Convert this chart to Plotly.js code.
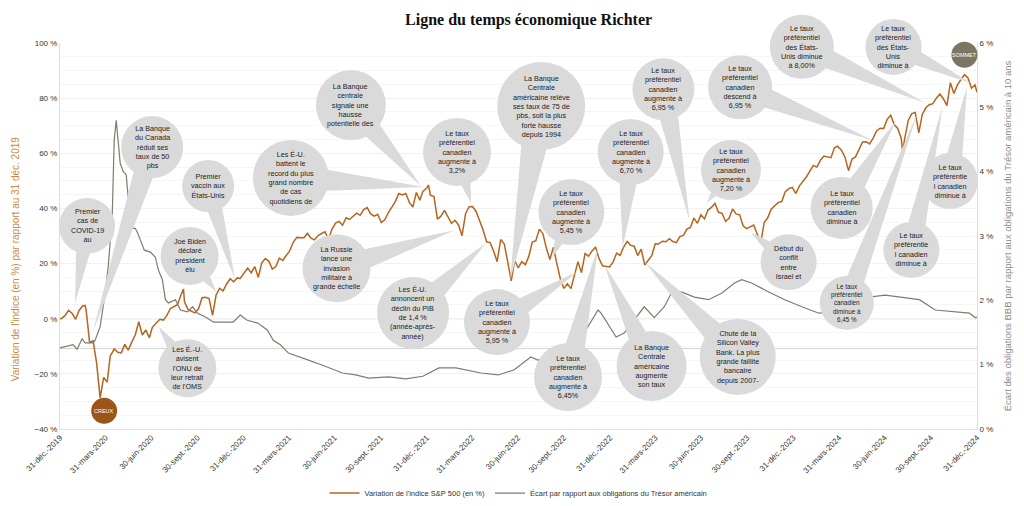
<!DOCTYPE html>
<html><head><meta charset="utf-8">
<script src="https://cdn.plot.ly/plotly-3.0.1.min.js"></script>
<style>html,body{margin:0;padding:0;background:#fff}#chart{width:1024px;height:506px}</style>
</head><body><div id="chart"></div>
<script>
// ---------- DATA ----------
const spDates = [
'2019-12-31','2020-01-03','2020-01-10','2020-01-17','2020-01-24','2020-01-31','2020-02-07','2020-02-14','2020-02-19','2020-02-21','2020-02-28',
'2020-03-06','2020-03-13','2020-03-20','2020-03-27','2020-04-03','2020-04-09','2020-04-17','2020-04-24','2020-05-01','2020-05-08','2020-05-15',
'2020-05-22','2020-05-29','2020-06-05','2020-06-12','2020-06-19','2020-06-26','2020-07-02','2020-07-10','2020-07-17','2020-07-24','2020-07-31',
'2020-08-07','2020-08-14','2020-08-21','2020-08-28','2020-09-02','2020-09-04','2020-09-11','2020-09-18','2020-09-25','2020-10-02','2020-10-09',
'2020-10-16','2020-10-23','2020-10-30','2020-11-06','2020-11-13','2020-11-20','2020-11-27','2020-12-04','2020-12-11','2020-12-18','2020-12-24','2020-12-31',
'2021-01-08','2021-01-15','2021-01-22','2021-01-29','2021-02-05','2021-02-12','2021-02-19','2021-02-26','2021-03-05','2021-03-12','2021-03-19',
'2021-03-26','2021-04-01','2021-04-09','2021-04-16','2021-04-23','2021-04-30','2021-05-07','2021-05-14','2021-05-21','2021-05-28','2021-06-04',
'2021-06-11','2021-06-18','2021-06-25','2021-07-02','2021-07-09','2021-07-16','2021-07-23','2021-07-30','2021-08-06','2021-08-13','2021-08-20',
'2021-08-27','2021-09-03','2021-09-10','2021-09-17','2021-09-24','2021-10-01','2021-10-08','2021-10-15','2021-10-22','2021-10-29','2021-11-05',
'2021-11-12','2021-11-19','2021-11-26','2021-12-03','2021-12-10','2021-12-17','2021-12-23','2021-12-31',
'2022-01-03','2022-01-07','2022-01-14','2022-01-21','2022-01-28','2022-02-04','2022-02-11','2022-02-18','2022-02-25','2022-03-04','2022-03-11',
'2022-03-18','2022-03-25','2022-04-01','2022-04-08','2022-04-14','2022-04-22','2022-04-29','2022-05-06','2022-05-13','2022-05-20','2022-05-27',
'2022-06-03','2022-06-10','2022-06-17','2022-06-24','2022-07-01','2022-07-08','2022-07-15','2022-07-22','2022-07-29','2022-08-05','2022-08-12',
'2022-08-19','2022-08-26','2022-09-02','2022-09-09','2022-09-16','2022-09-23','2022-09-30','2022-10-07','2022-10-14','2022-10-21','2022-10-28',
'2022-11-04','2022-11-11','2022-11-18','2022-11-25','2022-12-02','2022-12-09','2022-12-16','2022-12-23','2022-12-30',
'2023-01-06','2023-01-13','2023-01-20','2023-01-27','2023-02-03','2023-02-10','2023-02-17','2023-02-24','2023-03-03','2023-03-10','2023-03-17',
'2023-03-24','2023-03-31','2023-04-06','2023-04-14','2023-04-21','2023-04-28','2023-05-05','2023-05-12','2023-05-19','2023-05-26','2023-06-02',
'2023-06-09','2023-06-16','2023-06-23','2023-06-30','2023-07-07','2023-07-14','2023-07-21','2023-07-28','2023-08-04','2023-08-11','2023-08-18',
'2023-08-25','2023-09-01','2023-09-08','2023-09-15','2023-09-22','2023-09-29','2023-10-06','2023-10-13','2023-10-20','2023-10-27','2023-11-03',
'2023-11-10','2023-11-17','2023-11-24','2023-12-01','2023-12-08','2023-12-15','2023-12-22','2023-12-29',
'2024-01-05','2024-01-12','2024-01-19','2024-01-26','2024-02-02','2024-02-09','2024-02-16','2024-02-23','2024-03-01','2024-03-08','2024-03-15',
'2024-03-22','2024-03-28','2024-04-05','2024-04-12','2024-04-19','2024-04-26','2024-05-03','2024-05-10','2024-05-17','2024-05-24','2024-05-31',
'2024-06-07','2024-06-14','2024-06-21','2024-06-28','2024-07-05','2024-07-12','2024-07-19','2024-07-26','2024-08-02','2024-08-05','2024-08-09',
'2024-08-16','2024-08-23','2024-08-30','2024-09-06','2024-09-13','2024-09-20','2024-09-27','2024-10-04','2024-10-11','2024-10-18','2024-10-25',
'2024-11-01','2024-11-08','2024-11-15','2024-11-22','2024-11-29','2024-12-06','2024-12-13','2024-12-20','2024-12-27','2024-12-31'];
const spValues = [
0,0.1,1.1,3.0,2.0,-0.2,3.0,4.6,4.8,3.3,-8.6,
-8.0,-16.1,-28.7,-21.3,-23.0,-13.6,-11.0,-12.2,-12.4,-9.3,-11.4,
-8.5,-5.8,-1.1,-5.9,-4.1,-6.9,-3.1,-1.4,-0.2,-0.5,1.2,
3.7,4.4,5.1,8.6,10.8,6.1,3.4,2.7,2.1,3.6,7.6,
7.8,7.3,1.2,8.6,11.0,10.1,12.6,14.5,13.4,14.8,14.6,16.3,
18.4,16.6,18.9,15.0,20.3,21.8,20.9,18.0,18.9,22.0,21.1,
23.0,24.4,27.8,29.5,29.4,29.4,31.0,29.2,28.6,30.1,30.9,
31.5,28.9,32.5,34.7,35.3,33.9,36.6,36.0,37.3,38.3,37.5,
39.6,40.3,38.0,37.2,37.9,34.9,35.9,38.4,40.7,42.5,45.4,
44.9,45.4,42.2,40.5,45.8,43.0,46.2,47.5,
48.5,44.8,44.3,36.1,37.2,39.3,36.8,34.6,35.7,34.0,30.1,
38.1,40.6,40.7,38.9,36.0,32.2,27.9,27.6,24.5,20.7,28.7,
27.2,20.7,13.7,21.1,18.4,20.7,19.6,22.6,27.8,28.3,32.5,
30.9,25.6,21.5,25.9,19.9,14.3,11.0,12.7,10.9,16.1,20.7,
16.7,23.6,22.7,24.6,26.0,21.8,19.2,19.0,18.8,
20.6,23.8,23.0,26.0,28.0,26.6,26.3,22.9,25.2,19.5,21.2,
22.9,27.2,27.1,28.1,27.9,29.0,28.0,27.6,29.8,30.2,32.5,
33.1,36.5,34.6,37.7,36.2,39.4,40.4,41.8,38.6,38.2,35.3,
36.4,39.8,38.0,37.7,33.7,32.7,33.4,34.0,30.7,27.4,34.9,
36.6,39.7,41.1,42.2,42.5,46.1,47.2,47.6,
45.4,48.1,49.8,51.4,53.5,55.6,55.0,57.5,59.0,58.6,58.4,
62.0,62.6,61.1,58.6,53.7,57.9,58.7,61.7,64.1,64.2,63.4,
65.5,68.1,69.1,69.0,72.3,73.8,70.4,69.0,65.5,60.5,65.4,
71.9,74.4,74.8,67.4,74.1,76.5,77.6,78.0,80.0,81.5,79.8,
77.3,85.6,81.7,84.8,86.7,88.5,87.3,83.6,84.8,82.1];

const spreadDates = [
'2019-12-31','2020-01-26','2020-02-03','2020-02-13','2020-02-19','2020-03-06','2020-03-10','2020-03-20','2020-03-30','2020-04-05',
'2020-04-13','2020-04-17','2020-04-21','2020-04-25','2020-04-29','2020-05-05','2020-05-11','2020-05-13','2020-05-17','2020-05-21',
'2020-05-29','2020-06-02','2020-06-08','2020-06-16','2020-06-28','2020-07-08','2020-07-14','2020-07-22','2020-07-28','2020-08-03',
'2020-08-17','2020-08-27','2020-09-10','2020-09-20','2020-09-30','2020-10-16','2020-11-01','2020-11-25','2020-12-10','2020-12-24',
'2021-01-07','2021-01-27','2021-02-16','2021-02-28','2021-03-14','2021-03-30','2021-04-23','2021-05-09','2021-06-06','2021-07-16',
'2021-08-11','2021-09-06','2021-10-16','2021-11-19','2021-12-23','2022-01-24','2022-02-27','2022-04-18','2022-05-22','2022-06-23',
'2022-07-26','2022-08-09','2022-09-04','2022-10-08','2022-11-09','2022-12-07','2022-12-13','2023-01-02','2023-01-12','2023-01-28',
'2023-02-17','2023-03-09','2023-03-29','2023-04-18','2023-05-02','2023-05-22','2023-06-17','2023-07-15','2023-08-10','2023-09-05',
'2023-09-19','2023-10-09','2023-11-12','2023-12-14','2024-01-17','2024-02-20','2024-03-11','2024-04-12','2024-05-10','2024-05-30',
'2024-07-01','2024-08-04','2024-09-07','2024-10-09','2024-11-12','2024-12-16','2024-12-28','2024-12-31'];
const spreadValues = [
1.26,1.31,1.24,1.40,1.34,1.34,1.38,1.59,2.11,2.52,
3.30,4.49,4.80,4.49,4.13,4.00,3.95,3.76,3.40,3.12,
3.12,3.06,2.94,2.78,2.75,2.67,2.47,2.32,2.01,1.96,
2.01,1.85,1.82,1.90,1.80,1.74,1.66,1.66,1.66,1.77,
1.69,1.65,1.54,1.38,1.31,1.18,1.12,1.07,0.99,0.87,
0.84,0.79,0.81,0.78,0.82,0.95,0.95,0.87,0.84,0.92,
1.12,1.07,1.12,1.27,1.49,1.85,1.80,1.54,1.43,1.49,
1.69,1.90,1.73,1.90,2.11,2.13,2.05,2.01,2.11,2.27,
2.32,2.27,2.13,2.01,1.90,1.80,1.82,1.90,2.01,2.05,
2.08,2.05,2.01,1.85,1.82,1.80,1.73,1.74];

const tickDates = ['2019-12-31','2020-03-31','2020-06-30','2020-09-30','2020-12-31','2021-03-31','2021-06-30','2021-09-30','2021-12-31',
'2022-03-31','2022-06-30','2022-09-30','2022-12-31','2023-03-31','2023-06-30','2023-09-30','2023-12-31','2024-03-31','2024-06-30','2024-09-30','2024-12-31'];
const tickLabels = ['31-déc.-2019','31-mars-2020','30-juin-2020','30-sept.-2020','31-déc.-2020','31-mars-2021','30-juin-2021','30-sept.-2021','31-déc.-2021',
'31-mars-2022','30-juin-2022','30-sept.-2022','31-déc.-2022','31-mars-2023','30-juin-2023','30-sept.-2023','31-déc.-2023','31-mars-2024','30-juin-2024','30-sept.-2024','31-déc.-2024'];

// Events: date the pointer lands on and its level on the left axis (%)
const eventDates = ['2020-01-30','2020-03-06','2020-12-14','2020-11-07','2020-07-14','2021-12-25','2021-12-19','2022-02-24','2022-04-28',
'2022-03-29','2022-06-15','2022-10-26','2022-09-07','2022-12-07','2023-01-25','2022-12-20','2023-03-10','2023-06-07','2024-06-05',
'2023-07-12','2023-10-07','2024-07-24','2024-09-04','2024-10-23','2024-12-11','2024-09-18','2024-12-18'];
const eventLevels = [5.7,-4.5,14.0,9.7,-2.7,47.8,48.1,32.1,27.5,
42.0,14.0,16.9,22.4,26.0,26.0,19.5,20.6,35.7,64.7,
42.0,31.4,72.1,75.0,76.8,84.0,78.3,85.5];
const eventTexts = [
'Premier<br>cas de<br>COVID-19<br>au',
'La Banque<br>du Canada<br>réduit ses<br>taux de 50<br>pbs',
'Premier<br>vaccin aux<br>États-Unis',
'Joe Biden<br>déclaré<br>président<br>élu',
'Les É.-U.<br>avisent<br>l\'ONU de<br>leur retrait<br>de l\'OMS',
'Les É-U.<br>battent le<br>record du plus<br>grand nombre<br>de cas<br>quotidiens de',
'La Banque<br>centrale<br>signale une<br>hausse<br>potentielle des',
'La Russie<br>lance une<br>invasion<br>militaire à<br>grande échelle',
'Les É-U.<br>annoncent un<br>déclin du PIB<br>de 1,4 %<br>(année-après-<br>année)',
'Le taux<br>préférentiel<br>canadien<br>augmente à<br>3,2%',
'La Banque<br>Centrale<br>américaine relève<br>ses taux de 75 de<br>pbs, soit la plus<br>forte hausse<br>depuis 1994',
'Le taux<br>préférentiel<br>canadien<br>augmente à<br>5,95 %',
'Le taux<br>préférentiel<br>canadien<br>augmente à<br>5,45 %',
'Le taux<br>préférentiel<br>canadien<br>augmente à<br>6,45%',
'Le taux<br>préférentiel<br>canadien<br>augmente à<br>6,70 %',
'La Banque<br>Centrale<br>américaine<br>augmente<br>son taux',
'Chute de la<br>Silicon Valley<br>Bank. La plus<br>grande faillite<br>bancaire<br>depuis 2007-',
'Le taux<br>préférentiel<br>canadien<br>augmente à<br>6,95 %',
'Le taux<br>préférentiel<br>canadien<br>descend à<br>6,95 %',
'Le taux<br>préférentiel<br>canadien<br>augmente à<br>7,20 %',
'Début du<br>conflit<br>entre<br>Israel et',
'Le taux<br>préférentiel<br>canadien<br>diminue à',
'Le taux<br>préférentiel<br>canadien<br>diminue à<br>6,45 %',
'Le taux<br>préférentie<br>l canadien<br>diminue à',
'Le taux<br>préférentie<br>l canadien<br>diminue à',
'Le taux<br>préférentiel<br>des États-<br>Unis diminue<br>à 8,00%',
'Le taux<br>préférentiel<br>des États-<br>Unis<br>diminue à'];

// bubble placement (pixels, relative to the pointer point; y up) and radius
const bubbleDx = [12,59,-27,-27,29,-133,-70,-118,-73,-14,31,-80,19,-30,8,47,93,-26,-132,24,38,-55,-71,-31,-17,-123,-77];
const bubbleDy = [77,184,94,36,-42,9,81,-38,-70,51,174,-50,45,-130,95,-101,-95,131,53,33,-30,-88,-191,-143,-94,56,36];
const bubbleR  = [28,31,26,29,29,38,35,34,36,34,44,33,33,34,33,35,38,31,32,30,28,31,27,28,28,32,28];
const bubbleFont = [7.2,7.2,7.2,7.2,7.2,7.2,7.2,7.2,7.2,7.2,7.2,7.2,7.2,7.2,7.2,7.2,7.2,7.2,7.2,7.2,7.2,7.2,6.3,7.2,7.2,7.2,7.2];

// extreme markers
const markerLabels = ['CREUX','SOMMET'];
const markerDates = ['2020-03-20','2024-12-06'];
const markerLevels = [-28.7,88.5];

// ---------- CHART ----------
const X0 = Date.parse('2019-12-31'), X1 = Date.parse('2024-12-31');
const YMIN = -40, YMAX = 100;
const px = d => (Date.parse(d) - X0) / (X1 - X0);
const py = v => (v - YMIN) / (YMAX - YMIN);

const BUBBLE = '#dadada';
const shapes = [
  {type:'line', xref:'paper', x0:0, x1:1, yref:'y2', y0:1.25, y1:1.25, line:{color:'#d4d4d4', width:1}, layer:'below'},
  {type:'line', xref:'paper', x0:0, x1:1, yref:'y', y0:0, y1:0, line:{color:'#d4d4d4', width:1}, layer:'below'}
];
const annotations = [];

eventDates.forEach((d, i) => {
  const ax = px(d), ay = py(eventLevels[i]);
  const dx = bubbleDx[i], dy = bubbleDy[i], r = bubbleR[i];
  const len = Math.hypot(dx, dy);
  const w = 0.38 * r;
  const pxp = -dy / len * w, pyp = dx / len * w;
  shapes.push({type:'path', xref:'paper', yref:'paper', xsizemode:'pixel', ysizemode:'pixel', xanchor:ax, yanchor:ay,
    path:`M 0 0 L ${(dx+pxp).toFixed(1)} ${(dy+pyp).toFixed(1)} L ${(dx-pxp).toFixed(1)} ${(dy-pyp).toFixed(1)} Z`,
    fillcolor:BUBBLE, line:{width:0}, layer:'above'});
  shapes.push({type:'circle', xref:'paper', yref:'paper', xsizemode:'pixel', ysizemode:'pixel', xanchor:ax, yanchor:ay,
    x0:dx-r, x1:dx+r, y0:dy-r, y1:dy+r, fillcolor:BUBBLE, line:{width:0}, layer:'above'});
  annotations.push({xref:'paper', yref:'paper', x:ax, y:ay, xshift:dx, yshift:dy, showarrow:false,
    text:eventTexts[i], align:'center', xanchor:'center', yanchor:'middle',
    font:{family:'Liberation Sans, Arial, sans-serif', size:bubbleFont[i], color:'#1a1a1a'}});
});

const markerColors = ['#9c5518','#7b7663'];
const markerDx = [4,0], markerDy = [-13,20];
markerLabels.forEach((t, i) => {
  const ax = px(markerDates[i]), ay = py(markerLevels[i]);
  const r = 13;
  shapes.push({type:'circle', xref:'paper', yref:'paper', xsizemode:'pixel', ysizemode:'pixel', xanchor:ax, yanchor:ay,
    x0:markerDx[i]-r, x1:markerDx[i]+r, y0:markerDy[i]-r, y1:markerDy[i]+r, fillcolor:markerColors[i], line:{width:0}, layer:'above'});
  annotations.push({xref:'paper', yref:'paper', x:ax, y:ay, xshift:markerDx[i], yshift:markerDy[i], showarrow:false,
    text:t, xanchor:'center', yanchor:'middle', font:{family:'Liberation Sans, Arial, sans-serif', size:5.5, color:'#ffffff'}});
});

// left axis title (placed lower, as in the original)
annotations.push({xref:'paper', yref:'paper', x:-0.049, y:0.44, xanchor:'center', yanchor:'middle', showarrow:false, textangle:-90,
  text:'Variation de l\'indice (en %) par rapport au 31 déc. 2019', font:{family:'Liberation Sans, Arial, sans-serif', size:10, color:'#c98a45'}});

const traces = [
  {x:spDates, y:spValues, type:'scatter', mode:'lines', name:'Variation de l\'indice S&P 500 (en %)',
   line:{color:'#b5651d', width:1.5}, yaxis:'y'},
  {x:spreadDates, y:spreadValues, type:'scatter', mode:'lines', name:'Écart par rapport aux obligations du Trésor américain',
   line:{color:'#7f7c6c', width:1.2}, yaxis:'y2'}
];

const layout = {
  width:1024, height:506,
  margin:{l:60, r:47, t:43, b:77, autoexpand:false},
  paper_bgcolor:'#ffffff', plot_bgcolor:'#ffffff',
  font:{family:'Liberation Sans, Arial, sans-serif', color:'#333333'},
  title:{text:'<b>Ligne du temps économique Richter</b>', font:{family:'Liberation Serif, Times New Roman, serif', size:16, color:'#111111'},
    x:0.511, xref:'paper', xanchor:'center', y:0.962, yref:'container', yanchor:'middle'},
  xaxis:{type:'date', range:['2019-12-31','2024-12-31'], tickmode:'array', tickvals:tickDates, ticktext:tickLabels,
    tickangle:-45, tickfont:{size:8, color:'#333333'}, showgrid:false, zeroline:false, showline:true, linecolor:'#e2e2e2', ticks:'', automargin:false},
  yaxis:{range:[YMIN, YMAX], tick0:0, dtick:20, ticksuffix:' %', tickfont:{size:8, color:'#333333'},
    showgrid:true, gridcolor:'#f1f1f1', minor:{dtick:5, showgrid:true, gridcolor:'#f6f6f6'},
    zeroline:false, showline:true, linecolor:'#dddddd', ticks:'', automargin:false},
  yaxis2:{overlaying:'y', side:'right', range:[0,6], dtick:1, ticksuffix:' %', tickfont:{size:8, color:'#333333'},
    showgrid:false, zeroline:false, showline:true, linecolor:'#dddddd', ticks:'', automargin:false,
    title:{text:'Écart des obligations BBB par rapport aux obligations du Trésor américain à 10 ans', font:{size:9.5, color:'#8a8a8a'}, standoff:11}},
  legend:{orientation:'h', x:0.5, xanchor:'center', y:-0.166, yanchor:'middle', font:{size:7.5, color:'#333333'}, itemwidth:30},
  shapes:shapes,
  annotations:annotations
};

Plotly.newPlot('chart', traces, layout, {displayModeBar:false, staticPlot:true});
</script>
</body></html>
